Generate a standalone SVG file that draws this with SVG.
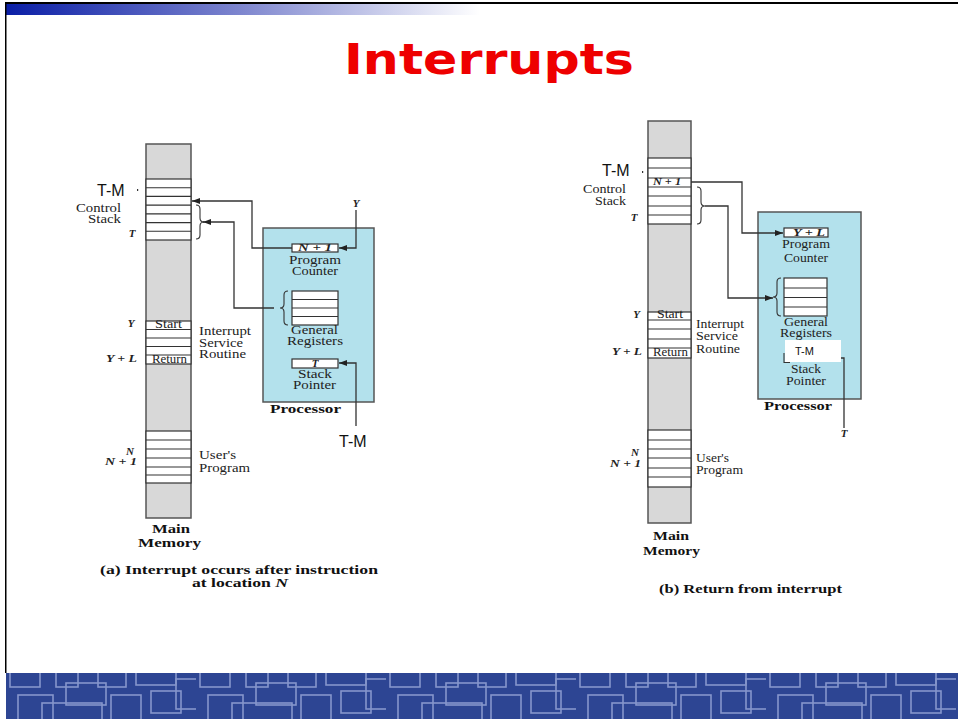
<svg xmlns="http://www.w3.org/2000/svg" width="958" height="719" viewBox="0 0 958 719">
<defs>
<linearGradient id="topg" x1="6" y1="0" x2="480" y2="0" gradientUnits="userSpaceOnUse">
<stop offset="0" stop-color="#0a1ea6"/>
<stop offset="0.5" stop-color="#7f87cf"/>
<stop offset="1" stop-color="#ffffff"/>
</linearGradient>
<pattern id="circ" x="6" y="673" width="190" height="46" patternUnits="userSpaceOnUse">
<rect width="190" height="46" fill="#2d4593"/>
<g fill="none" stroke="#8595cc" stroke-width="1.6">
<rect x="4" y="-6" width="30" height="20"/>
<rect x="12" y="22" width="35" height="30"/>
<rect x="50" y="-4" width="22" height="18"/>
<rect x="60" y="10" width="40" height="22"/>
<rect x="92" y="-10" width="28" height="24"/>
<rect x="105" y="22" width="30" height="28"/>
<rect x="130" y="-4" width="40" height="16"/>
<rect x="145" y="18" width="30" height="22"/>
<rect x="170" y="6" width="26" height="30"/>
<rect x="36" y="30" width="60" height="20"/>
</g>
</pattern>
<marker id="ah" viewBox="0 0 8 6" refX="8" refY="3" markerWidth="8" markerHeight="6" orient="auto" markerUnits="userSpaceOnUse">
<path d="M0,0 L8,3 L0,6 Z" fill="#222"/>
</marker>
</defs>
<style>
.mem{fill:#d8d8d8;stroke:#555;stroke-width:1.5}
.cell{fill:#fff;stroke:#333;stroke-width:1.2}
.row{stroke:#333;stroke-width:1.1;fill:none}
.proc{fill:#b3e1ec;stroke:#555;stroke-width:1.5}
.reg{fill:#fff;stroke:#333;stroke-width:1.2}
.conn{fill:none;stroke:#333;stroke-width:1.3}
.brace{fill:none;stroke:#333;stroke-width:1.1}
.s{font-family:"Liberation Serif",serif;font-size:11.5px;fill:#222}
.sb{font-family:"Liberation Serif",serif;font-size:12.5px;font-weight:bold;fill:#111}
.si{font-family:"Liberation Serif",serif;font-size:11px;font-style:italic;font-weight:bold;fill:#222}
.tm{font-family:"Liberation Sans",sans-serif;font-size:16px;fill:#111}
.tms{font-family:"Liberation Sans",sans-serif;font-size:11px;fill:#111}
</style>

<!-- frame -->
<rect x="5" y="2" width="953" height="2" fill="#000"/>
<rect x="6" y="4" width="952" height="11" fill="url(#topg)"/>
<rect x="5" y="2" width="1.5" height="671" fill="#000"/>
<rect x="6" y="673" width="952" height="46" fill="url(#circ)"/>

<text x="489" y="74" text-anchor="middle" font-family="DejaVu Sans, Verdana, sans-serif" font-weight="bold" font-size="43" fill="#ee0000" textLength="290" lengthAdjust="spacingAndGlyphs">Interrupts</text>

<!-- ===== (a) ===== -->
<g id="memA">
<rect class="mem" x="146" y="144" width="45" height="374"/>
<rect class="cell" x="146" y="179" width="45" height="61"/>
<path class="row" d="M146,187.7H191M146,196.4H191M146,205.1H191M146,213.9H191M146,222.6H191M146,231.3H191"/>
<rect class="cell" x="146" y="321" width="45" height="43"/>
<path class="row" d="M146,329.5H191M146,338H191M146,346.5H191M146,355H191"/>
<rect class="cell" x="146" y="431" width="45" height="52"/>
<path class="row" d="M146,440H191M146,449H191M146,458H191M146,467H191M146,475H191"/>
<text class="tm" x="97" y="196">T-M</text>
<rect x="137" y="189" width="1.2" height="2" fill="#333"/>
<text class="s" x="121" y="212" text-anchor="end" textLength="45" lengthAdjust="spacingAndGlyphs">Control</text>
<text class="s" x="121" y="223" text-anchor="end" textLength="33" lengthAdjust="spacingAndGlyphs">Stack</text>
<text class="si" x="132" y="237" text-anchor="middle">T</text>
<text class="si" x="131" y="327" text-anchor="middle">Y</text>
<text class="si" x="137" y="362" text-anchor="end" textLength="31" lengthAdjust="spacingAndGlyphs">Y + L</text>
<text class="s" x="168.5" y="328" text-anchor="middle" font-size="10.5" textLength="27" lengthAdjust="spacingAndGlyphs">Start</text>
<text class="s" x="169.5" y="363" text-anchor="middle" font-size="10.5" textLength="35" lengthAdjust="spacingAndGlyphs">Return</text>
<text class="s" x="199" y="335" textLength="52" lengthAdjust="spacingAndGlyphs">Interrupt</text>
<text class="s" x="199" y="347" textLength="44" lengthAdjust="spacingAndGlyphs">Service</text>
<text class="s" x="199" y="358" textLength="47" lengthAdjust="spacingAndGlyphs">Routine</text>
<text class="si" x="130" y="455" text-anchor="middle">N</text>
<text class="si" x="137" y="465" text-anchor="end" textLength="32" lengthAdjust="spacingAndGlyphs">N + 1</text>
<text class="s" x="199" y="459" textLength="37" lengthAdjust="spacingAndGlyphs">User's</text>
<text class="s" x="199" y="472" textLength="51" lengthAdjust="spacingAndGlyphs">Program</text>
<text class="sb" x="171" y="533" text-anchor="middle" textLength="38" lengthAdjust="spacingAndGlyphs">Main</text>
<text class="sb" x="169.5" y="547" text-anchor="middle" textLength="63" lengthAdjust="spacingAndGlyphs">Memory</text>
<path class="brace" d="M196,205 q4,0 4,4 v9 q0,4 4,4 q-4,0 -4,4 v9 q0,4 -4,4"/>
</g>

<g id="procA">
<rect class="proc" x="263" y="228" width="111" height="174"/>
<rect class="reg" x="292" y="244" width="46" height="8"/>
<text class="si" x="315" y="251" text-anchor="middle" font-size="10" textLength="34" lengthAdjust="spacingAndGlyphs">N + 1</text>
<text class="s" x="315" y="264" text-anchor="middle" textLength="52" lengthAdjust="spacingAndGlyphs">Program</text>
<text class="s" x="315" y="275" text-anchor="middle" textLength="46" lengthAdjust="spacingAndGlyphs">Counter</text>
<rect class="reg" x="292" y="291" width="46" height="34"/>
<path class="row" d="M292,299.5H338M292,308H338M292,316.5H338"/>
<path class="brace" d="M288,291 q-4,0 -4,4 v9 q0,4 -4,4 q4,0 4,4 v9 q0,4 4,4"/>
<text class="s" x="314.5" y="334" text-anchor="middle" textLength="47" lengthAdjust="spacingAndGlyphs">General</text>
<text class="s" x="315" y="345" text-anchor="middle" textLength="56" lengthAdjust="spacingAndGlyphs">Registers</text>
<rect class="reg" x="292" y="359" width="46" height="9"/>
<text class="si" x="315" y="366.5" text-anchor="middle" font-size="10">T</text>
<text class="s" x="315" y="378" text-anchor="middle" textLength="34" lengthAdjust="spacingAndGlyphs">Stack</text>
<text class="s" x="314.5" y="389" text-anchor="middle" textLength="43" lengthAdjust="spacingAndGlyphs">Pointer</text>
<text class="sb" x="305.5" y="413" text-anchor="middle" textLength="71" lengthAdjust="spacingAndGlyphs">Processor</text>
</g>

<g id="labelsA">
<text class="si" x="356" y="207" text-anchor="middle" font-size="10">Y</text>
<text class="tm" x="339" y="447">T-M</text>
<text class="sb" x="239" y="574" text-anchor="middle" textLength="278" lengthAdjust="spacingAndGlyphs">(a)  Interrupt occurs after instruction</text>
<text class="sb" x="240" y="587" text-anchor="middle" textLength="96" lengthAdjust="spacingAndGlyphs">at location <tspan font-style="italic">N</tspan></text>
</g>

<!-- ===== (b) ===== -->
<g id="memB">
<rect class="mem" x="648" y="121" width="43" height="402"/>
<rect class="cell" x="648" y="158" width="43" height="66"/>
<path class="row" d="M648,168H691M648,178H691M648,187H691M648,196H691M648,206H691M648,215H691"/>
<rect class="cell" x="648" y="312" width="43" height="46"/>
<path class="row" d="M648,320H691M648,329H691M648,339H691M648,348H691"/>
<rect class="cell" x="648" y="430" width="43" height="57"/>
<path class="row" d="M648,440H691M648,449H691M648,458H691M648,468H691M648,477H691"/>
<text class="tm" x="602" y="176">T-M</text>
<rect x="642" y="171" width="1.2" height="2" fill="#333"/>
<text class="s" x="626" y="193" text-anchor="end" textLength="43" lengthAdjust="spacingAndGlyphs">Control</text>
<text class="s" x="626" y="205" text-anchor="end" textLength="31" lengthAdjust="spacingAndGlyphs">Stack</text>
<text class="si" x="634" y="221" text-anchor="middle">T</text>
<text class="si" x="667" y="185" text-anchor="middle" font-size="10" textLength="28" lengthAdjust="spacingAndGlyphs">N + 1</text>
<text class="si" x="636.5" y="318" text-anchor="middle">Y</text>
<text class="si" x="642" y="355" text-anchor="end" textLength="30" lengthAdjust="spacingAndGlyphs">Y + L</text>
<text class="s" x="670" y="318" text-anchor="middle" font-size="10.5" textLength="26" lengthAdjust="spacingAndGlyphs">Start</text>
<text class="s" x="670.5" y="356" text-anchor="middle" font-size="10.5" textLength="35" lengthAdjust="spacingAndGlyphs">Return</text>
<text class="s" x="696" y="328" textLength="48" lengthAdjust="spacingAndGlyphs">Interrupt</text>
<text class="s" x="696" y="340" textLength="42" lengthAdjust="spacingAndGlyphs">Service</text>
<text class="s" x="696" y="353" textLength="44" lengthAdjust="spacingAndGlyphs">Routine</text>
<text class="si" x="635" y="456" text-anchor="middle">N</text>
<text class="si" x="641" y="467" text-anchor="end" textLength="31" lengthAdjust="spacingAndGlyphs">N + 1</text>
<text class="s" x="696" y="462" textLength="33" lengthAdjust="spacingAndGlyphs">User's</text>
<text class="s" x="696" y="474" textLength="47" lengthAdjust="spacingAndGlyphs">Program</text>
<text class="sb" x="671" y="540" text-anchor="middle" textLength="36" lengthAdjust="spacingAndGlyphs">Main</text>
<text class="sb" x="671.5" y="555" text-anchor="middle" textLength="57" lengthAdjust="spacingAndGlyphs">Memory</text>
<path class="brace" d="M697,187 q4,0 4,4 v11 q0,4 4,4 q-4,0 -4,4 v10 q0,4 -4,4"/>
</g>

<g id="procB">
<rect class="proc" x="758" y="212" width="103" height="187"/>
<rect class="reg" x="784" y="228" width="44" height="9"/>
<text class="si" x="809" y="236" text-anchor="middle" font-size="10" textLength="32" lengthAdjust="spacingAndGlyphs">Y + L</text>
<text class="s" x="806" y="248" text-anchor="middle" textLength="48" lengthAdjust="spacingAndGlyphs">Program</text>
<text class="s" x="806" y="262" text-anchor="middle" textLength="44" lengthAdjust="spacingAndGlyphs">Counter</text>
<rect class="reg" x="784" y="278" width="43" height="38"/>
<path class="row" d="M784,288H827M784,297.5H827M784,307H827"/>
<path class="brace" d="M781,278 q-4,0 -4,4 v11 q0,4 -4,4 q4,0 4,4 v11 q0,4 4,4"/>
<text class="s" x="806" y="326" text-anchor="middle" textLength="44" lengthAdjust="spacingAndGlyphs">General</text>
<text class="s" x="806" y="337" text-anchor="middle" textLength="52" lengthAdjust="spacingAndGlyphs">Registers</text>
<path d="M784,353V362.5H790" fill="none" stroke="#333" stroke-width="1.1"/>
<rect x="785" y="340" width="56" height="22" fill="#fff"/>
<text class="tms" x="795" y="355">T-M</text>
<text class="s" x="806" y="373" text-anchor="middle" textLength="30" lengthAdjust="spacingAndGlyphs">Stack</text>
<text class="s" x="806" y="385" text-anchor="middle" textLength="40" lengthAdjust="spacingAndGlyphs">Pointer</text>
<text class="sb" x="798" y="410" text-anchor="middle" textLength="68" lengthAdjust="spacingAndGlyphs">Processor</text>
</g>

<g id="labelsB">
<text class="si" x="844" y="437" text-anchor="middle" font-size="10">T</text>
<text class="sb" x="750.5" y="593" text-anchor="middle" textLength="183" lengthAdjust="spacingAndGlyphs">(b)  Return from interrupt</text>
</g>

<g id="connectors">
<polyline class="conn" points="292,248 252,248 252,201 192,201" marker-end="url(#ah)"/>
<polyline class="conn" points="274,308 234,308 234,222 203,222" marker-end="url(#ah)"/>
<polyline class="conn" points="356,210 356,248 339,248" marker-end="url(#ah)"/>
<polyline class="conn" points="356,426 356,363 339,363" marker-end="url(#ah)"/>
<polyline class="conn" points="691,182 742,182 742,233 783,233" marker-end="url(#ah)"/>
<polyline class="conn" points="705,206 728,206 728,298 773,298" marker-end="url(#ah)"/>
<polyline class="conn" points="841,358 844,358 844,428"/>
</g>
</svg>
